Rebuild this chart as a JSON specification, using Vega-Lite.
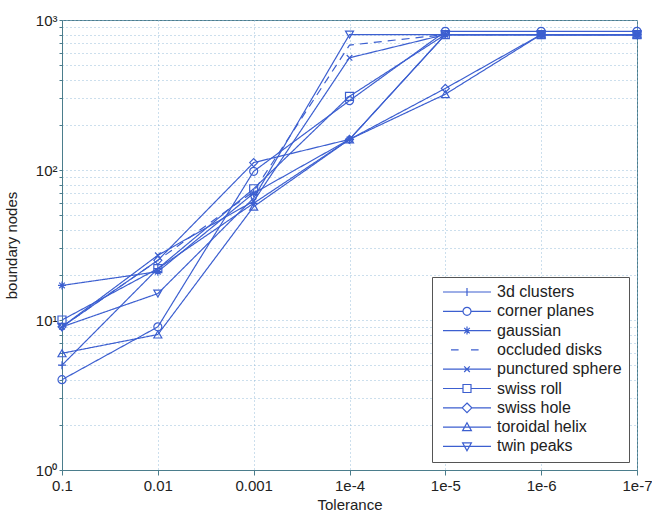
{
  "$schema": "https://vega.github.io/schema/vega-lite/v6.json",
  "autosize": {"type": "none"},
  "padding": {"left": 62, "top": 20, "right": 15, "bottom": 42},
  "width": 575,
  "height": 450,
  "background": "white",
  "config": {
    "font": "Liberation Sans",
    "view": {"stroke": "#4b7d8c", "strokeWidth": 1},
    "axis": {
      "domainColor": "#4b7d8c",
      "tickColor": "#4b7d8c",
      "labelColor": "#222222",
      "titleColor": "#222222",
      "labelFont": "Liberation Sans",
      "titleFont": "Liberation Sans",
      "labelFontSize": 15,
      "titleFontSize": 15,
      "titleFontWeight": "normal",
      "gridColor": "#8fb8d8",
      "gridDash": [1, 3],
      "gridOpacity": 0.9
    },
    "legend": {
      "labelFont": "Liberation Sans",
      "labelFontSize": 16,
      "labelColor": "#222222"
    }
  },
  "data": {
    "values": [
      {"series": "3d clusters", "tol": "0.1", "nodes": 5},
      {"series": "3d clusters", "tol": "0.01", "nodes": 22},
      {"series": "3d clusters", "tol": "0.001", "nodes": 60},
      {"series": "3d clusters", "tol": "1e-4", "nodes": 160},
      {"series": "3d clusters", "tol": "1e-5", "nodes": 800},
      {"series": "3d clusters", "tol": "1e-6", "nodes": 800},
      {"series": "3d clusters", "tol": "1e-7", "nodes": 800},
      {"series": "corner planes", "tol": "0.1", "nodes": 4},
      {"series": "corner planes", "tol": "0.01", "nodes": 9},
      {"series": "corner planes", "tol": "0.001", "nodes": 98},
      {"series": "corner planes", "tol": "1e-4", "nodes": 290},
      {"series": "corner planes", "tol": "1e-5", "nodes": 840},
      {"series": "corner planes", "tol": "1e-6", "nodes": 840},
      {"series": "corner planes", "tol": "1e-7", "nodes": 840},
      {"series": "gaussian", "tol": "0.1", "nodes": 17},
      {"series": "gaussian", "tol": "0.01", "nodes": 21},
      {"series": "gaussian", "tol": "0.001", "nodes": 70},
      {"series": "gaussian", "tol": "1e-4", "nodes": 160},
      {"series": "gaussian", "tol": "1e-5", "nodes": 800},
      {"series": "gaussian", "tol": "1e-6", "nodes": 800},
      {"series": "gaussian", "tol": "1e-7", "nodes": 800},
      {"series": "occluded disks", "tol": "0.1", "nodes": 9},
      {"series": "occluded disks", "tol": "0.01", "nodes": 25},
      {"series": "occluded disks", "tol": "0.001", "nodes": 72},
      {"series": "occluded disks", "tol": "1e-4", "nodes": 680},
      {"series": "occluded disks", "tol": "1e-5", "nodes": 800},
      {"series": "occluded disks", "tol": "1e-6", "nodes": 800},
      {"series": "occluded disks", "tol": "1e-7", "nodes": 800},
      {"series": "punctured sphere", "tol": "0.1", "nodes": 9},
      {"series": "punctured sphere", "tol": "0.01", "nodes": 27},
      {"series": "punctured sphere", "tol": "0.001", "nodes": 62},
      {"series": "punctured sphere", "tol": "1e-4", "nodes": 560},
      {"series": "punctured sphere", "tol": "1e-5", "nodes": 800},
      {"series": "punctured sphere", "tol": "1e-6", "nodes": 800},
      {"series": "punctured sphere", "tol": "1e-7", "nodes": 800},
      {"series": "swiss roll", "tol": "0.1", "nodes": 10},
      {"series": "swiss roll", "tol": "0.01", "nodes": 22},
      {"series": "swiss roll", "tol": "0.001", "nodes": 75},
      {"series": "swiss roll", "tol": "1e-4", "nodes": 310},
      {"series": "swiss roll", "tol": "1e-5", "nodes": 800},
      {"series": "swiss roll", "tol": "1e-6", "nodes": 800},
      {"series": "swiss roll", "tol": "1e-7", "nodes": 800},
      {"series": "swiss hole", "tol": "0.1", "nodes": 9},
      {"series": "swiss hole", "tol": "0.01", "nodes": 25},
      {"series": "swiss hole", "tol": "0.001", "nodes": 112},
      {"series": "swiss hole", "tol": "1e-4", "nodes": 160},
      {"series": "swiss hole", "tol": "1e-5", "nodes": 350},
      {"series": "swiss hole", "tol": "1e-6", "nodes": 800},
      {"series": "swiss hole", "tol": "1e-7", "nodes": 800},
      {"series": "toroidal helix", "tol": "0.1", "nodes": 6},
      {"series": "toroidal helix", "tol": "0.01", "nodes": 8},
      {"series": "toroidal helix", "tol": "0.001", "nodes": 57},
      {"series": "toroidal helix", "tol": "1e-4", "nodes": 160},
      {"series": "toroidal helix", "tol": "1e-5", "nodes": 320},
      {"series": "toroidal helix", "tol": "1e-6", "nodes": 800},
      {"series": "toroidal helix", "tol": "1e-7", "nodes": 800},
      {"series": "twin peaks", "tol": "0.1", "nodes": 9},
      {"series": "twin peaks", "tol": "0.01", "nodes": 15},
      {"series": "twin peaks", "tol": "0.001", "nodes": 65},
      {"series": "twin peaks", "tol": "1e-4", "nodes": 800},
      {"series": "twin peaks", "tol": "1e-5", "nodes": 800},
      {"series": "twin peaks", "tol": "1e-6", "nodes": 800},
      {"series": "twin peaks", "tol": "1e-7", "nodes": 800}
    ]
  },
  "encoding": {
    "x": {
      "field": "tol",
      "type": "ordinal",
      "sort": ["0.1", "0.01", "0.001", "1e-4", "1e-5", "1e-6", "1e-7"],
      "scale": {"type": "point", "padding": 0, "domain": ["0.1", "0.01", "0.001", "1e-4", "1e-5", "1e-6", "1e-7"]},
      "axis": {
        "title": "Tolerance",
        "labelAngle": 0,
        "grid": true,
        "tickSize": 5,
        "labelPadding": 3,
        "titlePadding": 4
      }
    },
    "y": {
      "field": "nodes",
      "type": "quantitative",
      "scale": {"type": "log", "domain": [1, 1000], "nice": false},
      "axis": {
        "title": "boundary nodes",
        "grid": true,
        "values": [1, 2, 3, 4, 5, 6, 7, 8, 9, 10, 20, 30, 40, 50, 60, 70, 80, 90, 100, 200, 300, 400, 500, 600, 700, 800, 900, 1000],
        "labelExpr": "datum.value == 1 ? '10⁰' : datum.value == 10 ? '10¹' : datum.value == 100 ? '10²' : datum.value == 1000 ? '10³' : ''",
        "tickSize": 3,
        "labelPadding": 2,
        "titlePadding": 16
      }
    }
  },
  "resolve": {"scale": {"shape": "independent"}},
  "layer": [
    {
      "mark": {"type": "line", "color": "#3c5fd0", "strokeWidth": 1.2},
      "encoding": {
        "detail": {"field": "series"},
        "strokeDash": {
          "field": "series",
          "type": "nominal",
          "scale": {
            "domain": ["3d clusters", "corner planes", "gaussian", "occluded disks", "punctured sphere", "swiss roll", "swiss hole", "toroidal helix", "twin peaks"],
            "range": [[1, 0], [1, 0], [1, 0], [8, 6], [1, 0], [1, 0], [1, 0], [1, 0], [1, 0]]
          },
          "legend": null
        }
      }
    },
    {
      "mark": {"type": "point", "filled": false, "color": "#3c5fd0", "size": 64, "strokeWidth": 1.2, "opacity": 1},
      "encoding": {
        "shape": {
          "field": "series",
          "type": "nominal",
          "scale": {
            "domain": ["3d clusters", "corner planes", "gaussian", "occluded disks", "punctured sphere", "swiss roll", "swiss hole", "toroidal helix", "twin peaks"],
            "range": [
              "M-1,0L1,0M0,-1L0,1",
              "circle",
              "M-1,0L1,0M0,-1L0,1M-0.7,-0.7L0.7,0.7M-0.7,0.7L0.7,-0.7",
              "M0,0L0,0",
              "M-0.7,-0.7L0.7,0.7M-0.7,0.7L0.7,-0.7",
              "square",
              "diamond",
              "triangle-up",
              "triangle-down"
            ]
          },
          "legend": null
        }
      }
    },
    {
      "transform": [{"filter": "datum.nodes < 0"}],
      "mark": {"type": "point", "filled": false, "color": "#3c5fd0", "size": 64, "strokeWidth": 1.2, "opacity": 1},
      "encoding": {
        "shape": {
          "field": "series",
          "type": "nominal",
          "scale": {
            "domain": ["3d clusters", "corner planes", "gaussian", "occluded disks", "punctured sphere", "swiss roll", "swiss hole", "toroidal helix", "twin peaks"],
            "range": [
              "M-6,0L6,0M0,-1L0,1",
              "M-6,0L-1,0M1,0L6,0M1,0A1,1,0,1,1,-1,0A1,1,0,1,1,1,0",
              "M-6,0L6,0M0,-1L0,1M-0.7,-0.7L0.7,0.7M-0.7,0.7L0.7,-0.7",
              "M-4,0L-2.1,0M1,0L2.9,0",
              "M-6,0L6,0M-0.7,-0.7L0.7,0.7M-0.7,0.7L0.7,-0.7",
              "M-6,0L-1,0M1,0L6,0M-1,-1L1,-1L1,1L-1,1Z",
              "M-6,0L-1.2,0M1.2,0L6,0M0,-1.2L1.2,0L0,1.2L-1.2,0Z",
              "M-6,0L6,0M0,-1.1L1.1,0.9L-1.1,0.9Z",
              "M-6,0L6,0M0,1.1L1.1,-0.9L-1.1,-0.9Z"
            ]
          },
          "legend": {
            "title": null,
            "orient": "bottom-right",
            "offset": 8,
            "symbolSize": 64,
            "symbolStrokeWidth": 1.2,
            "symbolStrokeColor": "#3c5fd0",
            "symbolFillColor": "transparent",
            "symbolOffset": 20,
            "labelOffset": 22,
            "rowPadding": 3.3,
            "padding": 7,
            "strokeColor": "#555555",
            "fillColor": "white",
            "labelLimit": 300
          }
        }
      }
    }
  ]
}
